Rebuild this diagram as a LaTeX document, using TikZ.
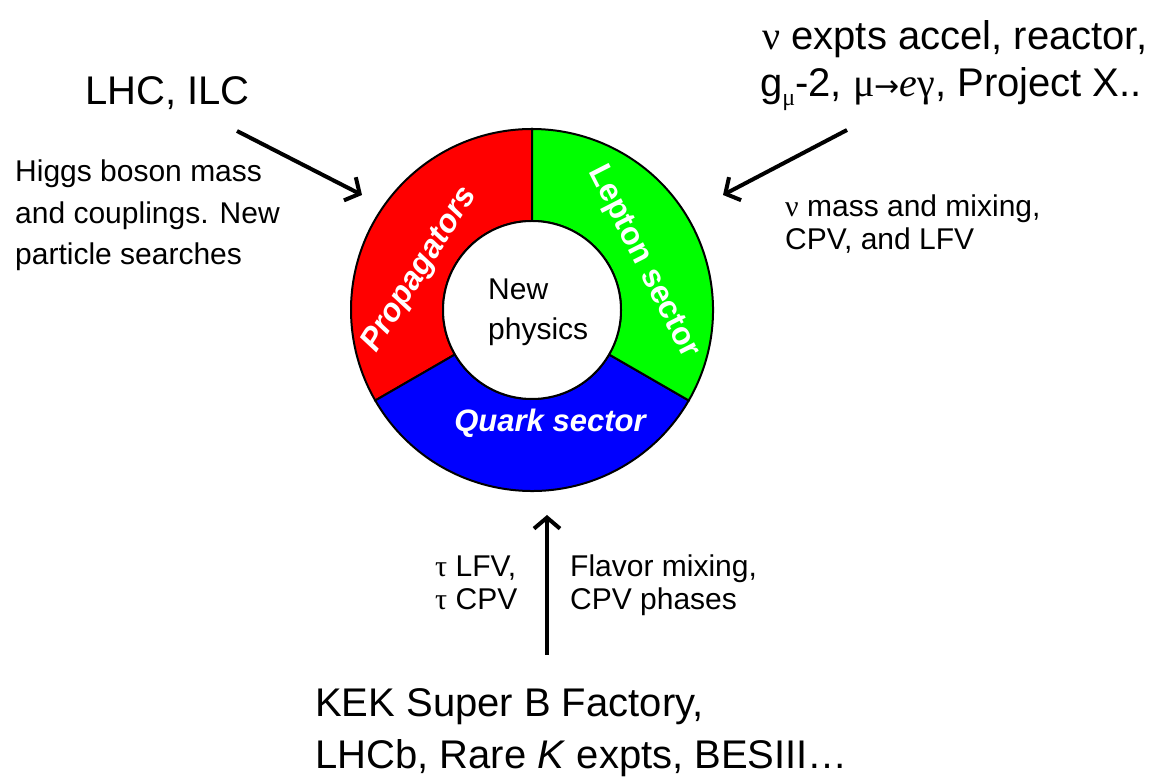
\documentclass[tikz,border=0pt]{standalone}
\usepackage{fontspec}
\setmainfont{Liberation Sans}
\newfontfamily\gk{Liberation Serif}
\newfontfamily\arr{DejaVu Sans}
\usetikzlibrary{arrows.meta,calc}
\definecolor{secred}{RGB}{255,0,0}
\definecolor{secgreen}{RGB}{0,255,0}
\definecolor{secblue}{RGB}{0,0,255}
\begin{document}
\begin{tikzpicture}[x=1pt,y=1pt,
  txtbig/.style={inner sep=0pt, anchor=base west, font=\fontsize{40}{47}\selectfont},
  txtmid/.style={inner sep=0pt, anchor=base west, font=\fontsize{30}{34}\selectfont},
  seclabel/.style={inner sep=0pt, text=white, font=\fontsize{32}{34}\selectfont\bfseries},
  sector/.style={draw=black, line width=2pt},
  feed/.style={line width=4pt, -{Straight Barb[length=11pt,width=26pt]}}
]
\useasboundingbox (0,0) rectangle (1161,783);
\fill[white] (0,0) rectangle (1161,783);
\def\R{181}
\def\r{89}
\coordinate (C) at (532,473);
% sectors
\draw[sector, fill=secred] ($(C)+(90:\r)$) -- ($(C)+(90:\R)$) arc[start angle=90, end angle=210, radius=\R] -- ($(C)+(210:\r)$) arc[start angle=210, end angle=90, radius=\r] -- cycle;
\draw[sector, fill=secblue] ($(C)+(210:\r)$) -- ($(C)+(210:\R)$) arc[start angle=210, end angle=330, radius=\R] -- ($(C)+(330:\r)$) arc[start angle=330, end angle=210, radius=\r] -- cycle;
\draw[sector, fill=secgreen] ($(C)+(-30:\r)$) -- ($(C)+(-30:\R)$) arc[start angle=-30, end angle=90, radius=\R] -- ($(C)+(90:\r)$) arc[start angle=90, end angle=-30, radius=\r] -- cycle;
\node[circle, draw=black, line width=2pt, fill=white, minimum size=178pt, inner sep=0pt] (core) at (C) {};
% sector labels
\node[seclabel, rotate=58, font=\fontsize{32}{34}\selectfont\bfseries\itshape] (prop) at (420,513) {Propagators};
\node[seclabel, rotate=-63] (lep) at (643,521) {Lepton sector};
\node[seclabel, font=\fontsize{31}{34}\selectfont\bfseries\itshape] (quark) at (550,360) {Quark sector};
% centre
\node[txtmid] (new1) at (488,483) {New};
\node[txtmid] (new2) at (488,443) {physics};
% upper left
\node[txtbig] (lhc) at (85,678) {LHC, ILC};
\node[txtmid] (h1) at (15,601) {Higgs boson mass};
\node[txtmid] (h2) at (15,559) {and couplings. New};
\node[txtmid] (h3) at (15,518) {particle searches};
% upper right
\node[txtbig] (nu1) at (762,733) {{\gk ν} expts accel, reactor,};
\node[txtbig] (nu2) at (760,686) {g\raisebox{-0.22em}{\fontsize{24}{24}\selectfont\gk μ}-2, {\gk μ}{\arr\fontsize{30}{30}\selectfont →}{\gk\itshape e}{\gk γ}, Project X..};
\node[txtmid] (m1) at (785,566) {{\gk ν} mass and mixing,};
\node[txtmid] (m2) at (785,533) {CPV, and LFV};
% bottom
\node[txtmid] (t1) at (435,206) {{\gk τ} LFV,};
\node[txtmid] (t2) at (435,173) {{\gk τ} CPV};
\node[txtmid] (f1) at (570,206) {Flavor mixing,};
\node[txtmid] (f2) at (570,173) {CPV phases};
\node[txtbig] (k1) at (315,66) {KEK Super B Factory,};
\node[txtbig] (k2) at (315,14) {LHCb, Rare \textit{K} expts, BESIII…};
% arrows
\coordinate (aL0) at (237,652);
\coordinate (aL1) at (362,588);
\coordinate (aR0) at (847,653);
\coordinate (aR1) at (723,588);
\coordinate (aB0) at (547,128);
\coordinate (aB1) at (547,268);
\draw[feed] (aL0) -- (aL1);
\draw[feed] (aR0) -- (aR1);
\draw[feed] (aB0) -- (aB1);
\end{tikzpicture}
\end{document}
